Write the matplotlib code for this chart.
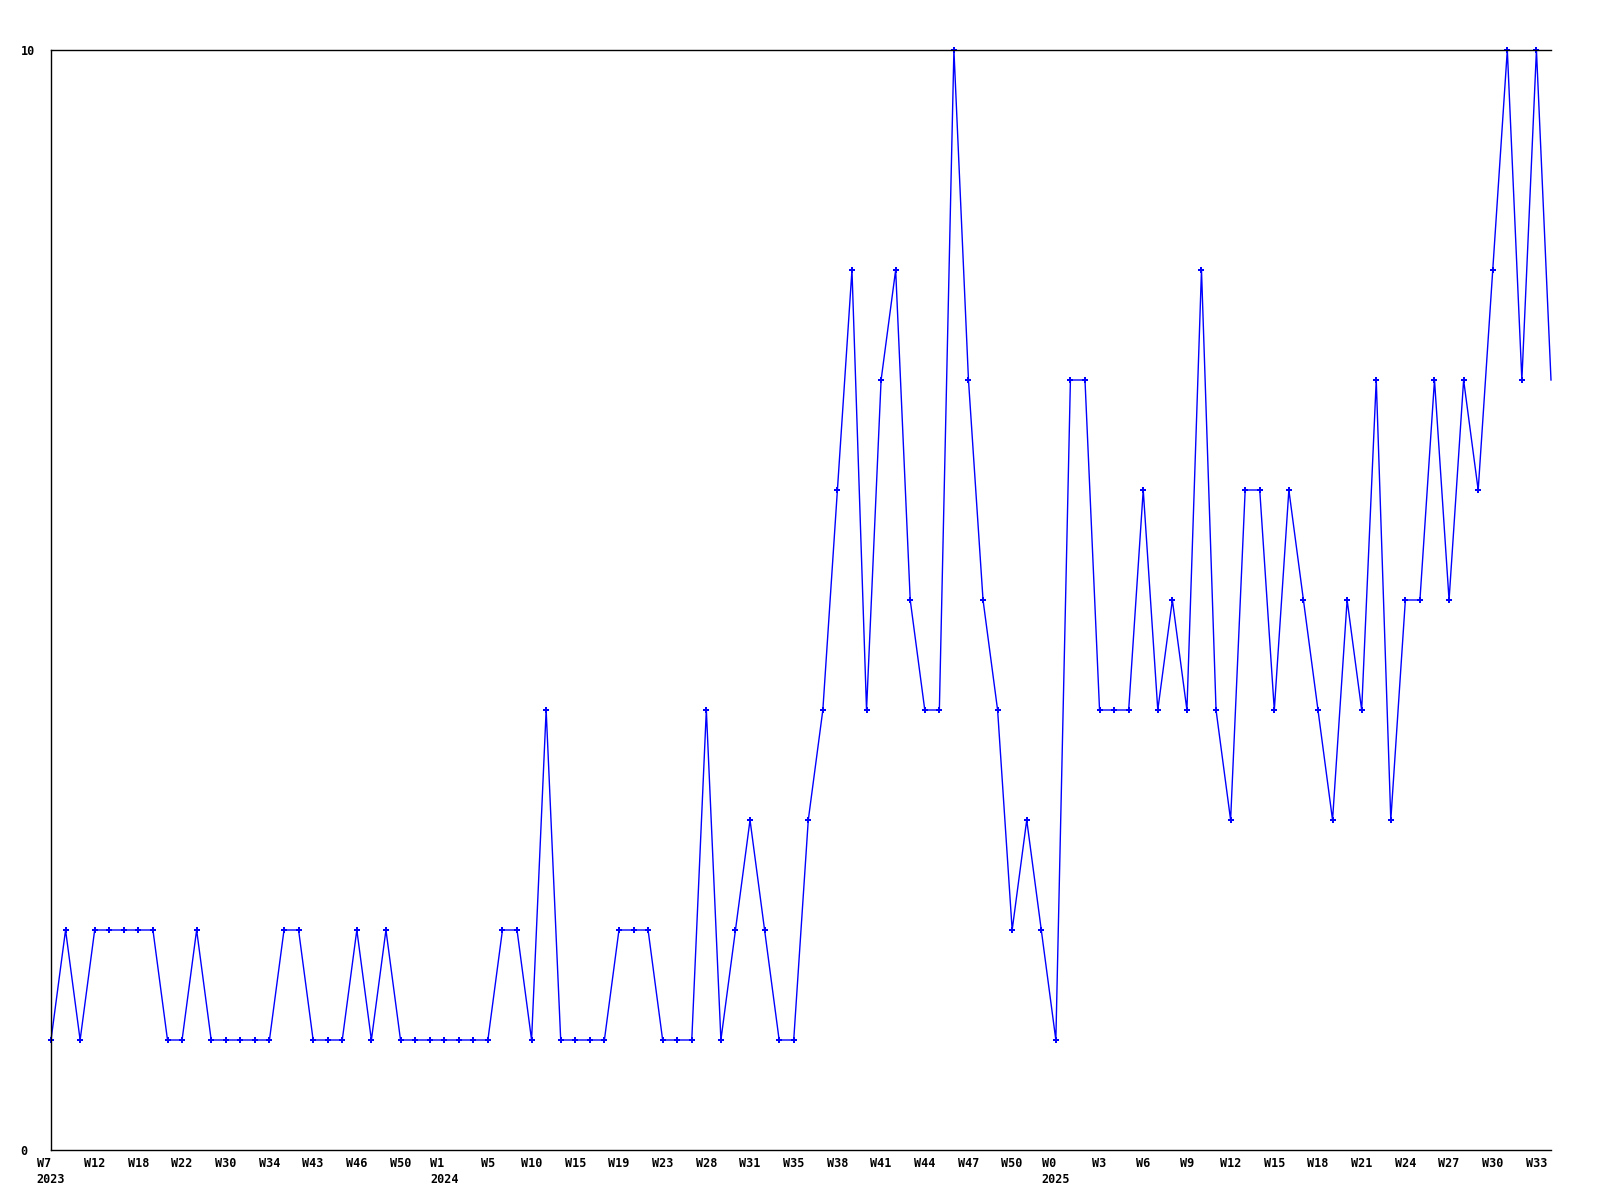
import matplotlib
matplotlib.use('Agg')
import matplotlib.pyplot as plt

# weekly counts, one per point
values = [1, 2, 1, 2, 2, 2, 2, 2, 1, 1,
          2, 1, 1, 1, 1, 1, 2, 2, 1, 1,
          1, 2, 1, 2, 1, 1, 1, 1, 1, 1,
          1, 2, 2, 1, 4, 1, 1, 1, 1, 2,
          2, 2, 1, 1, 1, 4, 1, 2, 3, 2,
          1, 1, 3, 4, 6, 8, 4, 7, 8, 5,
          4, 4, 10, 7, 5, 4, 2, 3, 2, 1,
          7, 7, 4, 4, 4, 6, 4, 5, 4, 8,
          4, 3, 6, 6, 4, 6, 5, 4, 3, 5,
          4, 7, 3, 5, 5, 7, 5, 7, 6, 8,
          10, 7, 10, 7]

# labels shown on every third point
week_labels = ['W7\n2023', 'W12', 'W18', 'W22', 'W30', 'W34', 'W43', 'W46',
               'W50', 'W1\n2024', 'W5', 'W10', 'W15', 'W19', 'W23', 'W28',
               'W31', 'W35', 'W38', 'W41', 'W44', 'W47', 'W50', 'W0\n2025',
               'W3', 'W6', 'W9', 'W12', 'W15', 'W18', 'W21', 'W24', 'W27',
               'W30', 'W33']
label_step = 3

y_ticks = [0, 10]

x = list(range(len(values)))

fig = plt.figure(figsize=(16, 12), dpi=100)
ax = fig.add_axes([51 / 1600, 1 - 1150 / 1200, 1500 / 1600, 1100 / 1200])

# last point sits on the right edge without a marker
ax.plot(x, values, color='#0000ff', linewidth=1.0, marker='P',
        markersize=4, markeredgewidth=0, clip_on=False,
        markevery=list(range(len(values) - 1)))

ax.set_xlim(0, len(values) - 1)
ax.set_ylim(0, 10)

ax.spines['right'].set_visible(False)
for s in ['left', 'top', 'bottom']:
    ax.spines[s].set_linewidth(1.0)
    ax.spines[s].set_color('black')

font = dict(family='DejaVu Sans Mono', weight='bold', size=8.5)

ax.set_xticks(x[::label_step][:len(week_labels)])
ax.set_xticklabels(week_labels, **font)
for lbl in ax.get_xticklabels():
    lbl.set_multialignment('left')
    lbl.set_linespacing(1.3)
ax.tick_params(axis='x', length=0, pad=5)

ax.set_yticks(y_ticks)
ax.set_yticklabels([str(v) for v in y_ticks], **font)
for lbl in ax.get_yticklabels():
    lbl.set_horizontalalignment('left')
ax.tick_params(axis='y', length=0, pad=22)

fig.savefig('out.png', dpi=100)
